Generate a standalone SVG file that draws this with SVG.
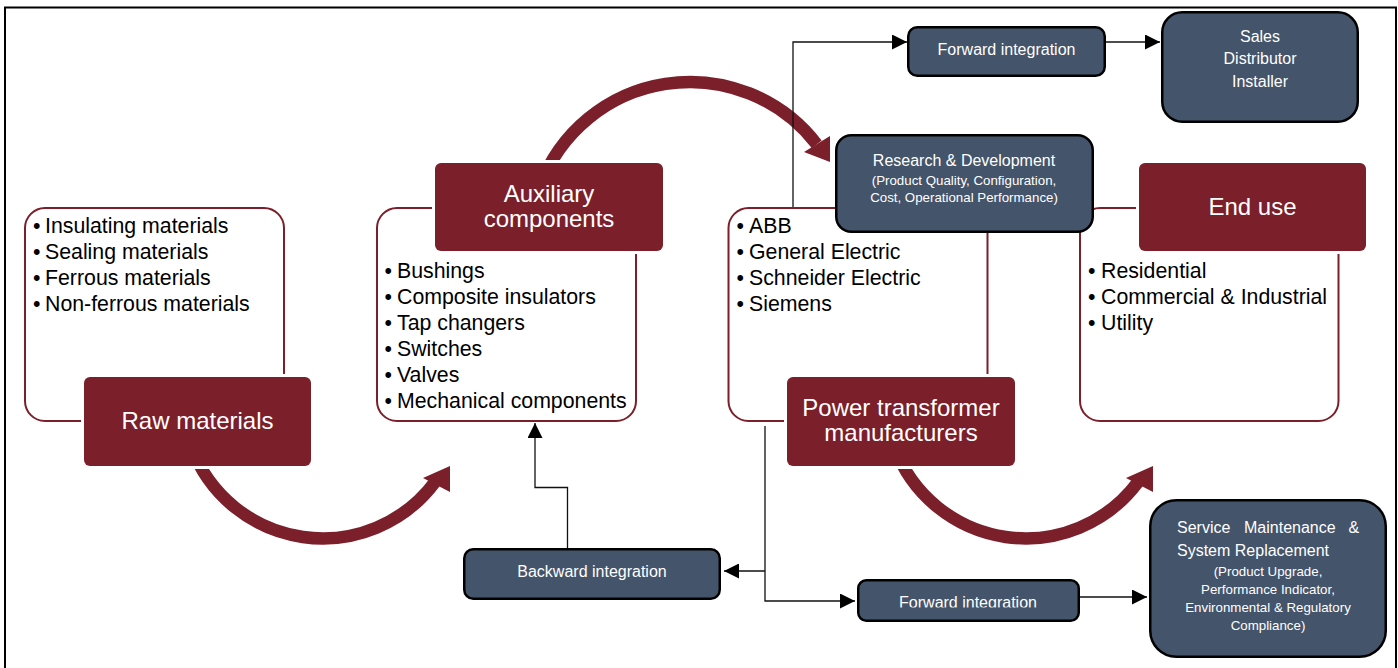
<svg xmlns="http://www.w3.org/2000/svg" width="1398" height="668" viewBox="0 0 1398 668">
<style>
.wb{fill:none;stroke:#7b1f2b;stroke-width:2}
.mb{fill:#7b1f2b}
.mw{fill:#fff}
.nb{fill:#44546a;stroke:#000;stroke-width:2.5}
.arc{fill:none;stroke:#7b1f2b;stroke-width:12.5}
.ah{fill:#7b1f2b}
.con{fill:none;stroke:#111;stroke-width:1.3}
text{font-family:"Liberation Sans",Arial,sans-serif}
.bl{font-size:21.3px;fill:#000}
.big{font-size:24px;fill:#fff;text-anchor:middle}
.nt{font-size:16px;fill:#fff;text-anchor:middle}
.ns{font-size:16px;fill:#fff}
.st{font-size:13.3px;fill:#fff;text-anchor:middle}
</style>
<defs>
<marker id="arr" viewBox="0 0 15 15" refX="15" refY="7.5" markerWidth="15" markerHeight="15" markerUnits="userSpaceOnUse" orient="auto">
<path d="M0 0 L15 7.5 L0 15 z" fill="#000"/>
</marker>
<clipPath id="clipFwd2"><rect x="857" y="579" width="223" height="28.5"/></clipPath>
</defs>
<rect width="1398" height="668" fill="#fff"/>
<path d="M5 670 V7.5 H1396 V670" fill="none" stroke="#000" stroke-width="2"/>

<g id="outlines">
<rect class="wb" x="25" y="208" width="259" height="213" rx="20"/>
<rect class="wb" x="377" y="208" width="259" height="213" rx="20"/>
<rect class="wb" x="728.5" y="208" width="259" height="213" rx="20"/>
<rect class="wb" x="1080" y="208" width="258.5" height="213" rx="20"/>
</g>

<g id="flow-arrows">
<path class="arc" d="M191.4 446.9 A140 140 0 0 0 435 482"/>
<polygon class="ah" points="423,478 450,466 450,492"/>
<path class="arc" d="M539.6 187.3 A160 160 0 0 1 816.7 144.3"/>
<polygon class="ah" points="804,152 830,136 830,162"/>
<path class="arc" d="M894.4 446.9 A140 140 0 0 0 1138 482"/>
<polygon class="ah" points="1126,478 1153,466 1153,492"/>
</g>

<g id="connectors">
<path class="con" d="M793 207 V42 H907" marker-end="url(#arr)"/>
<path class="con" d="M1106 42 H1160" marker-end="url(#arr)"/>
<path class="con" d="M567.5 548 V487.5 H535 V423" marker-end="url(#arr)"/>
<path class="con" d="M765 426 V601 H855" marker-end="url(#arr)"/>
<path class="con" d="M765 571 H724" marker-end="url(#arr)"/>
<path class="con" d="M1080 597 H1147" marker-end="url(#arr)"/>
</g>

<g id="raw-list">
<text class="bl" x="33" y="233.3">•</text><text class="bl" x="45" y="233.3">Insulating materials</text>
<text class="bl" x="33" y="259.3">•</text><text class="bl" x="45" y="259.3">Sealing materials</text>
<text class="bl" x="33" y="285.3">•</text><text class="bl" x="45" y="285.3">Ferrous materials</text>
<text class="bl" x="33" y="311.3">•</text><text class="bl" x="45" y="311.3">Non-ferrous materials</text>
</g>
<g id="raw-materials">
<rect class="mw" x="81" y="374" width="233" height="95" rx="8"/>
<rect class="mb" x="84" y="377" width="227" height="89" rx="6"/>
<text class="big" x="197.5" y="429">Raw materials</text>
</g>

<g id="aux-list">
<text class="bl" x="384.5" y="278.3">•</text><text class="bl" x="397" y="278.3">Bushings</text>
<text class="bl" x="384.5" y="304.3">•</text><text class="bl" x="397" y="304.3">Composite insulators</text>
<text class="bl" x="384.5" y="330.3">•</text><text class="bl" x="397" y="330.3">Tap changers</text>
<text class="bl" x="384.5" y="356.3">•</text><text class="bl" x="397" y="356.3">Switches</text>
<text class="bl" x="384.5" y="382.3">•</text><text class="bl" x="397" y="382.3">Valves</text>
<text class="bl" x="384.5" y="408.3">•</text><text class="bl" x="397" y="408.3">Mechanical components</text>
</g>
<g id="auxiliary-components">
<rect class="mw" x="432" y="160" width="234" height="94" rx="8"/>
<rect class="mb" x="435" y="163" width="228" height="88" rx="6"/>
<text class="big" x="549" y="201.5">Auxiliary</text>
<text class="big" x="549" y="227">components</text>
</g>

<g id="mfr-list">
<text class="bl" x="736.5" y="233.3">•</text><text class="bl" x="749" y="233.3">ABB</text>
<text class="bl" x="736.5" y="259.3">•</text><text class="bl" x="749" y="259.3">General Electric</text>
<text class="bl" x="736.5" y="285.3">•</text><text class="bl" x="749" y="285.3">Schneider Electric</text>
<text class="bl" x="736.5" y="311.3">•</text><text class="bl" x="749" y="311.3">Siemens</text>
</g>
<g id="manufacturers">
<rect class="mw" x="784" y="374" width="234" height="95" rx="8"/>
<rect class="mb" x="787" y="377" width="228" height="89" rx="6"/>
<text class="big" x="901" y="415.5">Power transformer</text>
<text class="big" x="901" y="441">manufacturers</text>
</g>

<g id="end-list">
<text class="bl" x="1088" y="278.3">•</text><text class="bl" x="1101" y="278.3">Residential</text>
<text class="bl" x="1088" y="304.3">•</text><text class="bl" x="1101" y="304.3">Commercial &amp; Industrial</text>
<text class="bl" x="1088" y="330.3">•</text><text class="bl" x="1101" y="330.3">Utility</text>
</g>
<g id="end-use">
<rect class="mw" x="1136" y="160" width="233" height="94" rx="8"/>
<rect class="mb" x="1139" y="163" width="227" height="88" rx="6"/>
<text class="big" x="1252.5" y="215">End use</text>
</g>

<g id="rnd">
<rect class="nb" x="836.25" y="135.25" width="256.5" height="96.5" rx="15"/>
<text class="nt" x="964" y="166">Research &amp; Development</text>
<text class="st" x="964" y="184.5">(Product Quality, Configuration,</text>
<text class="st" x="964" y="202.2">Cost, Operational Performance)</text>
</g>

<g id="forward-top">
<rect class="nb" x="908.25" y="27.25" width="196.5" height="48.5" rx="9"/>
<text class="nt" x="1006.5" y="55">Forward integration</text>
</g>

<g id="sales">
<rect class="nb" x="1162.25" y="12.25" width="195.5" height="109.5" rx="20"/>
<text class="nt" x="1260" y="42">Sales</text>
<text class="nt" x="1260" y="64.3">Distributor</text>
<text class="nt" x="1260" y="86.7">Installer</text>
</g>

<g id="backward">
<rect class="nb" x="464.25" y="549.25" width="255.5" height="49.5" rx="9"/>
<text class="nt" x="592" y="577">Backward integration</text>
</g>

<g id="forward-bottom">
<rect class="nb" x="858.25" y="580.25" width="220.5" height="40.5" rx="8"/>
<text class="nt" x="968" y="607.5" clip-path="url(#clipFwd2)">Forward integration</text>
</g>

<g id="service">
<rect class="nb" x="1150.25" y="500.25" width="235.5" height="156.5" rx="26"/>
<text class="ns" x="1177" y="533.3">Service</text>
<text class="ns" x="1244" y="533.3">Maintenance</text>
<text class="ns" x="1348.5" y="533.3">&amp;</text>
<text class="ns" x="1177" y="555.5">System Replacement</text>
<text class="st" x="1268" y="575.7">(Product Upgrade,</text>
<text class="st" x="1268" y="593.5">Performance Indicator,</text>
<text class="st" x="1268" y="611.7">Environmental &amp; Regulatory</text>
<text class="st" x="1268" y="630">Compliance)</text>
</g>
</svg>
